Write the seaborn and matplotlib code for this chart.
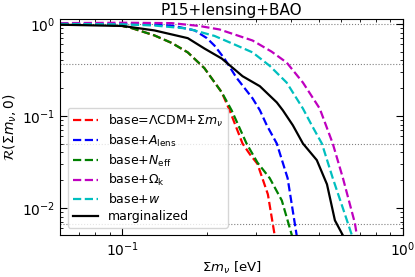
import numpy as np
import pandas as pd
import matplotlib
matplotlib.use("Agg")
import matplotlib.pyplot as plt
import seaborn as sns

# values
red_x = [0.06, 0.08, 0.09, 0.10, 0.108, 0.13, 0.15, 0.171, 0.196, 0.226, 0.241, 0.268, 0.285, 0.303, 0.33, 0.349]
red_y = [0.99, 0.985, 0.975, 0.95, 0.90, 0.75, 0.62, 0.49, 0.33, 0.18, 0.115, 0.05, 0.038, 0.03, 0.014, 0.005]

green_x = [0.06, 0.08, 0.09, 0.10, 0.108, 0.13, 0.15, 0.171, 0.196, 0.226, 0.245, 0.277, 0.303, 0.335, 0.37, 0.402]
green_y = [0.99, 0.985, 0.975, 0.95, 0.90, 0.75, 0.62, 0.49, 0.33, 0.18, 0.115, 0.05, 0.031, 0.021, 0.012, 0.005]

blue_x = [0.06, 0.09, 0.117, 0.15, 0.181, 0.20, 0.213, 0.231, 0.255, 0.291, 0.309, 0.327, 0.355, 0.388, 0.418]
blue_y = [1.0, 1.0, 0.99, 0.96, 0.85, 0.70, 0.58, 0.42, 0.26, 0.155, 0.115, 0.079, 0.05, 0.021, 0.005]

mag_x = [0.06, 0.10, 0.15, 0.188, 0.222, 0.291, 0.34, 0.385, 0.44, 0.505, 0.562, 0.611, 0.674, 0.685]
mag_y = [1.02, 1.03, 1.02, 0.95, 0.87, 0.66, 0.50, 0.38, 0.23, 0.12, 0.05, 0.021, 0.0068, 0.005]

cyan_x = [0.06, 0.10, 0.13, 0.171, 0.213, 0.25, 0.291, 0.335, 0.385, 0.44, 0.473, 0.514, 0.562, 0.61, 0.658]
cyan_y = [1.0, 0.99, 0.96, 0.89, 0.74, 0.60, 0.49, 0.35, 0.23, 0.12, 0.079, 0.05, 0.021, 0.01, 0.005]

black_x = [0.06, 0.10, 0.13, 0.171, 0.196, 0.226, 0.268, 0.309, 0.355, 0.373, 0.405, 0.44, 0.493, 0.536, 0.572, 0.611]
black_y = [0.98, 0.95, 0.85, 0.70, 0.54, 0.42, 0.27, 0.21, 0.14, 0.115, 0.079, 0.05, 0.033, 0.018, 0.0073, 0.005]

labels = [r"base=$\Lambda$CDM+$\Sigma m_\nu$", r"base+$A_{\rm lens}$", r"base+$N_{\rm eff}$",
          r"base+$\Omega_{\rm k}$", r"base+$w$", "marginalized"]
colors = ["r", "b", "g", "m", "c", "k"]
styles = ["--", "--", "--", "--", "--", "-"]
series = [(red_x, red_y), (blue_x, blue_y), (green_x, green_y),
          (mag_x, mag_y), (cyan_x, cyan_y), (black_x, black_y)]

# reference levels exp(-chi2/2)
levels = np.exp(-np.array([0, 1, 3, 5]))

fig = plt.figure(figsize=(4.15, 2.77), dpi=100)
ax = fig.add_axes([0.145, 0.15, 0.826, 0.78])

for lev in levels:
    ax.axhline(lev, color="grey", ls=":", lw=0.8, zorder=0)

for (xs, ys), lab, c, st in zip(series, labels, colors, styles):
    df = pd.DataFrame({"x": xs, "y": ys})
    sns.lineplot(data=df, x="x", y="y", ax=ax, color=c, linestyle=st, lw=1.6,
                 label=lab, sort=False)

ax.set_xscale("log")
ax.set_yscale("log")
ax.set_xlim(0.06, 1.0)
ax.set_ylim(0.005, 1.12)
ax.tick_params(which="both", direction="in", top=True, right=True, labelsize=10)
ax.tick_params(which="major", length=5)
ax.tick_params(which="minor", length=2.5)
ax.set_xlabel(r"$\Sigma m_\nu$ [eV]", fontsize=9.5, labelpad=0.5)
ax.set_ylabel(r"$\mathcal{R}(\Sigma m_\nu, 0)$", fontsize=10, labelpad=2)
ax.set_title("P15+lensing+BAO", fontsize=11, pad=3)
ax.legend(loc="lower left", fontsize=9, labelspacing=0.3, borderaxespad=0.6)

fig.savefig("out.png", dpi=100)
